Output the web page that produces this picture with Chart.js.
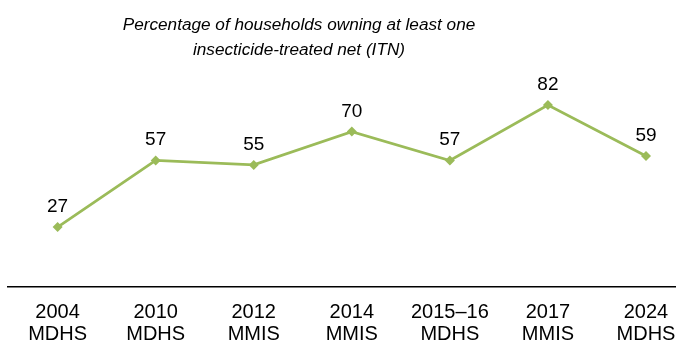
<!DOCTYPE html>
<html>
<head>
<meta charset="utf-8">
<script src="https://cdn.jsdelivr.net/npm/chart.js@4/dist/chart.umd.min.js"></script>
<style>
  html, body { margin: 0; padding: 0; background: #fff; }
  #wrap { position: relative; width: 680px; height: 343px; overflow: hidden; }
  #title { position: absolute; left: 0; top: 12px; width: 598px; text-align: center;
    font: italic 17.2px "Liberation Sans", Arial, sans-serif; line-height: 25px; color: #000; }
  canvas { position: absolute; left: 0; top: 0; }
</style>
</head>
<body>
<div id="wrap">
  <canvas id="c" width="680" height="343"></canvas>
  <div id="title">Percentage of households owning at least one<br>insecticide-treated net (ITN)</div>
</div>
<script>
const surveyYears = ["2004", "2010", "2012", "2014", "2015–16", "2017", "2024"];
const surveyTypes = ["MDHS", "MDHS", "MMIS", "MMIS", "MDHS", "MMIS", "MDHS"];
const itnPercent = [27, 57, 55, 70, 57, 82, 59];

const FONT = '"Liberation Sans", Arial, sans-serif';
const GREEN = '#9BBB59';

const valueLabels = {
  id: 'valueLabels',
  afterDatasetsDraw(chart) {
    const ctx = chart.ctx;
    const meta = chart.getDatasetMeta(0);
    ctx.save();
    ctx.font = '19px ' + FONT;
    ctx.fillStyle = '#000';
    ctx.textAlign = 'center';
    ctx.textBaseline = 'alphabetic';
    meta.data.forEach((pt, i) => {
      ctx.fillText(String(itnPercent[i]), pt.x, pt.y - 15);
    });
    ctx.restore();
  }
};

new Chart(document.getElementById('c'), {
  type: 'line',
  data: {
    datasets: [{
      data: itnPercent.map((v, i) => ({ x: i, y: v })),
      borderColor: GREEN,
      backgroundColor: GREEN,
      borderWidth: 2.75,
      pointStyle: 'rectRot',
      pointRadius: 5,
      pointBorderWidth: 0,
      pointBackgroundColor: GREEN,
      tension: 0
    }]
  },
  options: {
    responsive: false,
    animation: false,
    layout: { padding: { left: 8, right: 0, top: 65, bottom: 0 } },
    plugins: { legend: { display: false }, title: { display: false }, tooltip: { enabled: false } },
    scales: {
      x: {
        type: 'linear',
        min: -0.506,
        max: 6.296,
        afterBuildTicks(scale) {
          scale.ticks = surveyYears.map((_, i) => ({ value: i }));
        },
        afterFit(scale) {
          scale.height = 56;
          scale.paddingLeft = 0;
          scale.paddingRight = 0;
        },
        grid: { display: false, drawTicks: false },
        border: { display: true, color: '#000', width: 1.5 },
        ticks: {
          autoSkip: false,
          maxRotation: 0,
          padding: 14,
          color: '#000',
          font: { family: FONT, size: 20, lineHeight: 1.115 },
          callback: (v) => [surveyYears[v], surveyTypes[v]]
        }
      },
      y: {
        display: false,
        min: 0,
        max: 100
      }
    }
  },
  plugins: [valueLabels]
});
</script>
</body>
</html>
